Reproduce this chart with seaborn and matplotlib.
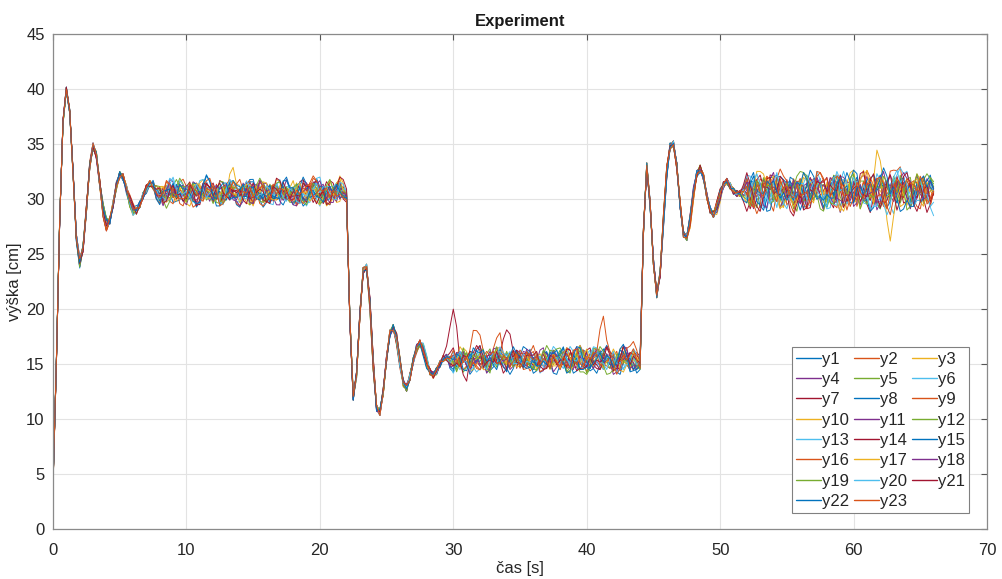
import numpy as np
import pandas as pd
import matplotlib
matplotlib.use("Agg")
import matplotlib.pyplot as plt
import seaborn as sns

# ---------------- data ----------------
DT = 0.25  # sampling step of the listed values [s]

# mean response, t = 0 .. 21.75 s
BASE_SEG1 = [4, 15, 28, 37, 40, 38, 32.5, 26.5,
             24.2, 25.5, 29, 33, 34.8, 34, 31.5, 29,
             27.7, 28, 29.5, 31.2, 32.2, 32, 31, 29.8,
             29, 28.9, 29.5, 30.3, 31, 31.4, 31.2, 30.6,
             30.2, 30.1, 30.2, 30.4, 30.5, 30.4, 30.3, 30.2,
             30.3, 30.4, 30.3, 30.2, 30.3, 30.4, 30.5, 30.4,
             30.3, 30.3, 30.2, 30.3, 30.4, 30.4, 30.3, 30.2,
             30.3, 30.4, 30.5, 30.4, 30.3, 30.2, 30.3, 30.3,
             30.4, 30.3, 30.2, 30.3, 30.4, 30.5, 30.4, 30.3,
             30.3, 30.2, 30.3, 30.4, 30.3, 30.3, 30.4, 30.5,
             30.4, 30.3, 30.2, 30.3, 30.4, 30.4, 30.5, 30.4]
# mean response, t = 22 .. 43.75 s
BASE_SEG2 = [30.3, 19, 12.0, 14, 19.5, 23.5, 23.8, 20.5,
             15, 11, 10.6, 12.5, 15.5, 17.8, 18.3, 17.3,
             15.2, 13.3, 12.8, 13.8, 15.3, 16.5, 16.9, 16.3,
             15.2, 14.3, 14.0, 14.4, 15.0, 15.5, 15.6, 15.2,
             15.1, 15.0, 15.2, 15.3, 15.1, 15.0, 15.1, 15.2,
             15.3, 15.2, 15.1, 15.0, 15.1, 15.2, 15.3, 15.1,
             15.0, 15.1, 15.2, 15.1, 15.0, 15.1, 15.2, 15.3,
             15.2, 15.1, 15.0, 15.1, 15.2, 15.1, 15.0, 15.1,
             15.2, 15.3, 15.1, 15.0, 15.1, 15.2, 15.1, 15.0,
             15.1, 15.2, 15.3, 15.2, 15.1, 15.0, 15.1, 15.2,
             15.1, 15.0, 15.1, 15.2, 15.1, 15.0, 15.0, 15.0]
# mean response, t = 44 .. 66 s
BASE_SEG3 = [15.0, 27, 33, 29.5, 24.3, 21.3, 23.2, 28,
             32.5, 34.8, 35.0, 33, 29.5, 26.8, 26.5, 28,
             30.5, 32.3, 32.8, 32, 30.3, 29, 28.6, 29.2,
             30.3, 31.3, 31.6, 31.2, 30.7, 30.5, 30.5, 30.7,
             30.8, 30.7, 30.6, 30.7, 30.8, 30.9, 30.8, 30.7,
             30.6, 30.7, 30.8, 30.7, 30.6, 30.5, 30.6, 30.7,
             30.8, 30.7, 30.6, 30.7, 30.8, 30.8, 30.7, 30.6,
             30.7, 30.8, 30.9, 30.8, 30.7, 30.6, 30.7, 30.8,
             30.7, 30.6, 30.7, 30.8, 30.9, 30.8, 30.7, 30.6,
             30.7, 30.8, 30.7, 30.6, 30.7, 30.8, 30.9, 30.8,
             30.7, 30.6, 30.7, 30.8, 30.7, 30.6, 30.7, 30.8,
             30.7]

# per-run deviation from the mean, one digit per sample (digit 4.5 = 0 cm)
DEV_CM_PER_DIGIT = 0.55
DEV = {
 "y1": "45454544 45635454 35464534 56453465 36752436 74523687 52346753 24678542 35763246 57423658 63425763 54645364 35463546 45364536 54635463 26745236 85243675 42365874 23567432 46752348 65324786 53247652 44563546 35463546 54364536 45364536 27950348 69314827 50386294 17408352 69271843 05826739 41738625 5",
 "y2": "55445455 54365443 64535463 45364536 47632578 64235764 38527463 25684372 46825374 62374856 47326584 45364536 64536453 35464354 46354635 73524683 46275384 62738452 37462584 52846375 24768352 68347526 54635463 46354635 35463546 64536453 83619472 05837261 94280637 52918403 76291548 30674192 85320647 4",
 "y3": "44545445 36454634 53646354 36453645 58364275 32476853 67342586 74325768 23587463 48625374 75243687 36453645 53645364 46354635 35463546 45287364 73526485 28465372 64837254 37258463 52748364 86325473 46354635 53645364 64536453 35463546 19473826 58207394 62849150 37162948 95038274 61829503 27495816 3",
 "y4": "54455454 63546345 46353645 54635463 62487354 25673842 74365827 38526743 67432586 25387465 43765284 63546354 45363546 54645364 46354635 38574263 65427385 47263857 25784364 74352687 36485273 52678435 35463546 46354635 64536453 53645364 74051839 28361947 50739281 64820371 93158460 27496183 58037294 6",
 "y5": "45544545 46354635 63545364 45363546 25743687 46385724 73624586 52837463 38564725 74265384 26573846 45636453 36454635 53546345 64535463 67423857 34685274 58273463 42658736 75326485 23847652 64273584 63546354 36453645 45364536 54635463 38207461 95163820 47291856 03874629 15680374 92746135 60382947 5",
 "y6": "54544554 35463546 46354536 63546354 73526487 35267843 64837254 27463582 53278467 46732538 85364725 54635463 45364536 36453645 63546354 24756384 57362847 36485273 75243687 42687354 68253746 37426583 45364536 63546354 36453645 46354635 61938205 47026381 85314972 20695847 38172059 64910382 73528164 4",
 "y7": "45455445 64536453 35463645 46353645 46285374 68342576 25874363 73652487 47263825 35784624 62487357 36453645 54635463 64536354 35463546 85364274 42758367 63428574 37562846 24875363 56342785 74263857 64536453 35463546 53645364 46354635 50384719 83629407 16493825 72058316 49271038 58163942 26074851 5",
 "y8": "55454455 45363546 63546354 54636453 37462853 52837465 74356284 46287537 62543786 37825463 54637285 45364536 36453645 54635463 64536453 62847536 37264583 74582634 26357485 58463724 43275863 65384275 36453645 54635463 46354635 63546354 92736401 48152973 03697482 15840627 89324016 57029384 41863759 3",
 "y9": "44554454 53645364 46354635 35463546 64375286 27486354 53627847 85364723 36582746 72436587 48257364 63546354 45364536 35463546 54635463 47365284 63827453 25748636 74536285 38264758 52847364 36574283 53645364 64536453 35463546 45364536 27483690 61590384 84267193 39015826 70481953 16358270 94672813 6",
 "y10": "45445545 46354635 54636453 63546354 52864375 74358246 36275483 64832574 27654836 85273465 43685327 54635463 36453645 64536453 45364536 36857243 74263857 52836474 38475263 65243786 47365284 25784365 46354635 35463546 54635463 63546354 15827493 73046185 29583760 86140293 41795028 68302517 53917846 4",
 "y11": "54454545 35463546 63546354 46354635 48263758 35782463 67453825 23675847 74836254 46257386 58342674 36453645 63546354 45364536 54635463 75284637 26485374 43768253 65327486 37654283 84263574 23587462 63546354 45364536 36453645 54635463 48261937 95037482 17584920 63219758 02876341 79451628 30685174 5",
 "y12": "45545454 54635463 36453645 53645364 74236857 58364726 24875364 46523786 63478253 35286475 72643856 45364536 54635463 63546354 35463546 52748364 68345726 37286453 42753867 76384524 23658746 64827354 35463546 63546354 54635463 46354635 63095281 28714603 91360847 47592318 85036472 13829605 69247138 6",
 "y13": "54455445 63546354 45364536 46354635 26587436 73624385 48357266 64285374 37562847 56834273 24765836 64536453 35463546 46354635 53645364 84263758 37546284 65372847 28463575 53728463 46835274 72364586 54635463 46354635 63546354 36453645 79163048 40582716 26948351 81307962 57620843 34185796 96042518 3",
 "y14": "45454554 45364536 53645364 64536453 63748256 27546384 85263747 36825463 42687534 74352668 35864273 35463546 64536453 45364536 36453645 56382747 84627354 27485363 63574285 45286374 78352646 26473857 46354635 53645364 35463546 64536453 02859364 65273819 38016475 92457036 14893257 80362914 47518302 5",
 "y15": "55445544 36453645 64536453 45364536 47358264 62874535 35642876 73528463 58264735 24687354 67345825 46354635 53645364 36453645 63546354 27653845 56284736 74637258 35286474 68437526 42758363 53864725 64536453 36453645 45364536 53645364 56813029 19675842 73428160 48093571 26718594 95264087 38190465 4",
 "y16": "44545455 54635463 35463546 64536453 35864723 48253768 62738455 47362586 25847363 63524787 46283645 53645364 46354635 63546354 45364536 63827454 25374867 47658236 86243574 34756283 57382645 74625378 35463546 54635463 46354635 63546354 84301756 37968204 52143879 09586423 61739805 43057281 75826930 6",
 "y17": "54545445 46354635 54635463 36453645 68245375 34768253 57382646 25674838 73528465 46837253 25463784 64536453 35463546 54635463 46354635 45738264 72365847 36825473 53476285 26854736 84357264 57264385 53645364 64536453 35463546 45364536 31597846 86024513 49731682 75380219 23869507 90537164 14682093 5",
 "y18": "45454545 63546354 46354635 54635463 53682744 76435826 28567453 64723586 47385264 32658475 85374626 45364536 63546354 36453645 54635463 38564273 65238754 72456386 47385624 53627847 26485375 64738254 45364536 35463546 64536453 53645364 67248015 92715386 05382947 38624170 71905362 26481759 59073428 4",
 "y19": "54544545 35463546 64536453 45364536 74536286 25847364 63284757 47563824 35674283 68342576 23785464 36453645 54635463 45364536 63546354 62485375 47326854 85273463 36485274 74253686 53867423 28546374 36453645 45364536 53645364 64536453 40672938 15348267 87923510 62085734 95340618 38716295 02594786 6",
 "y20": "45545445 64536453 53645364 35463546 36278545 63584726 47326858 25847363 76385427 54263748 37654286 54635463 46354635 35463546 64536453 74836252 35267486 58347263 63825747 27546384 45783625 83625473 64536453 53645364 46354635 35463546 23786150 79430628 48157392 15692804 86274031 52018947 71349260 3",
 "y21": "54455454 53645364 45364536 63546354 82457363 47623857 36845274 73258466 24763853 65385742 47236587 63546354 35463546 54635463 46354635 36274858 72563842 45836275 58342763 63875244 37264586 24586375 46354635 64536453 53645364 36453645 95420378 34865102 60172849 27439615 48061793 13694028 86203571 5",
 "y22": "45454455 46354635 63546354 54635463 27564385 65342787 43768254 58276436 36452875 73824563 52673844 45364536 53645364 64536453 35463546 47623586 58374264 26857342 73462858 45236784 62548375 35786243 53645364 35463546 46354635 64536453 16935284 84261709 39807152 53268497 07543826 69827301 42156938 4",
 "y23": "55454544 64536453 36453645 46354635 45872635 38564274 76235486 46382757 52837463 37456825 64827354 36453645 46354635 54635463 63546354 85347263 26758346 63482575 47365284 36528743 74625836 52374685 35463546 63546354 45364536 54635463 72084196 50937428 24613985 91578260 38426719 67103854 85729613 5",
}
# sensor readings are low-pass: neighbouring digits are blended with these weights
DEV_BLEND = [0.2, 0.6, 0.2]

# individual excursions seen in the picture: (run, start time [s], extra cm per sample)
SPIKES = [
    ("y3", 13.0, [0.8, 1.6, 1.2]),
    ("y14", 29.5, [1.0, 3.0, 4.5, 3.0, 0.0, -2.0, -1.5]),
    ("y2", 31.25, [0.5, 1.8, 3.0, 2.5, 0.8]),
    ("y9", 33.0, [0.8, 2.0, 2.6, 1.5, 0.3]),
    ("y7", 33.75, [1.0, 2.5, 3.0, 1.5]),
    ("y23", 40.5, [0.5, 1.5, 2.8, 3.3, 2.0, 0.5]),
    ("y16", 42.75, [0.8, 1.6, 1.8, 1.0]),
    ("y10", 61.25, [1.0, 2.0, 2.8, 1.5, -0.5, -2.0, -2.5, -1.0]),
    ("y2", 62.75, [1.0, 2.2, 2.5, 1.2]),
    ("y6", 65.5, [-0.5, -1.5, -2.0]),
]

SERIES = list(DEV.keys())
MATLAB_COLORS = ["#0072BD", "#D95319", "#EDB120", "#7E2F8E",
                 "#77AC30", "#4DBEEE", "#A2142F"]

# ---------------- build table ----------------
base = np.array(BASE_SEG1 + BASE_SEG2 + BASE_SEG3, dtype=float)
n = len(base)
t = np.arange(n) * DT

frames = []
for name in SERIES:
    s = DEV[name].replace(" ", "")
    if len(s) != n:
        raise ValueError(f"{name}: {len(s)} digits, expected {n}")
    dev = (np.array([int(c) for c in s], dtype=float) - 4.5) * DEV_CM_PER_DIGIT
    dev = np.convolve(dev, DEV_BLEND, mode="same")
    y = base + dev
    for sname, t0, extra in SPIKES:
        if sname == name:
            i0 = int(round(t0 / DT))
            y[i0:i0 + len(extra)] += np.array(extra)
    frames.append(pd.DataFrame({"t": t, "y": y, "series": name}))
df = pd.concat(frames, ignore_index=True)

# ---------------- plot ----------------
sns.set_style("white")
plt.rcParams["font.family"] = ["Liberation Sans", "DejaVu Sans"]

fig = plt.figure(figsize=(10.03, 5.79), dpi=100)
ax = fig.add_axes([53 / 1003, 50 / 579, 934 / 1003, 495 / 579])

palette = {name: MATLAB_COLORS[i % 7] for i, name in enumerate(SERIES)}
sns.lineplot(data=df, x="t", y="y", hue="series", hue_order=SERIES,
             palette=palette, estimator=None, linewidth=0.7, ax=ax,
             legend=True)

ax.set_xlim(0, 70)
ax.set_ylim(0, 45)
ax.set_xticks(np.arange(0, 71, 10))
ax.set_yticks(np.arange(0, 46, 5))
ax.grid(True, color="#e3e3e3", linewidth=0.8)
ax.set_axisbelow(True)
for sp in ax.spines.values():
    sp.set_visible(True)
    sp.set_color("#8a8a8a")
    sp.set_linewidth(0.9)
ax.tick_params(direction="in", top=True, right=True, length=4,
               color="#555555", labelsize=12, labelcolor="#262626")
ax.tick_params(axis="x", pad=10)
ax.tick_params(axis="y", pad=6)

ax.set_title("Experiment", fontsize=12, fontweight="bold", color="#1a1a1a", pad=6)
ax.set_xlabel("čas [s]", fontsize=12, color="#262626", labelpad=2)
ax.set_ylabel("výška [cm]", fontsize=12, color="#262626", labelpad=3)

# legend filled row by row (y1 y2 y3 / y4 y5 y6 / ...)
handles, labels = ax.get_legend_handles_labels()
ncol = 3
order = [i for c in range(ncol) for i in range(c, len(labels), ncol)]
leg = ax.legend([handles[i] for i in order], [labels[i] for i in order],
                loc="lower right", bbox_to_anchor=(0.981, 0.032),
                borderaxespad=0, ncol=ncol, fontsize=12, handlelength=1.5,
                handletextpad=0.05, columnspacing=0.3, labelspacing=0.32,
                borderpad=0.25, fancybox=False, framealpha=1,
                edgecolor="#808080")
leg.get_frame().set_linewidth(0.8)
for line in leg.get_lines():
    line.set_linewidth(1.0)

fig.savefig("out.png", dpi=100)
